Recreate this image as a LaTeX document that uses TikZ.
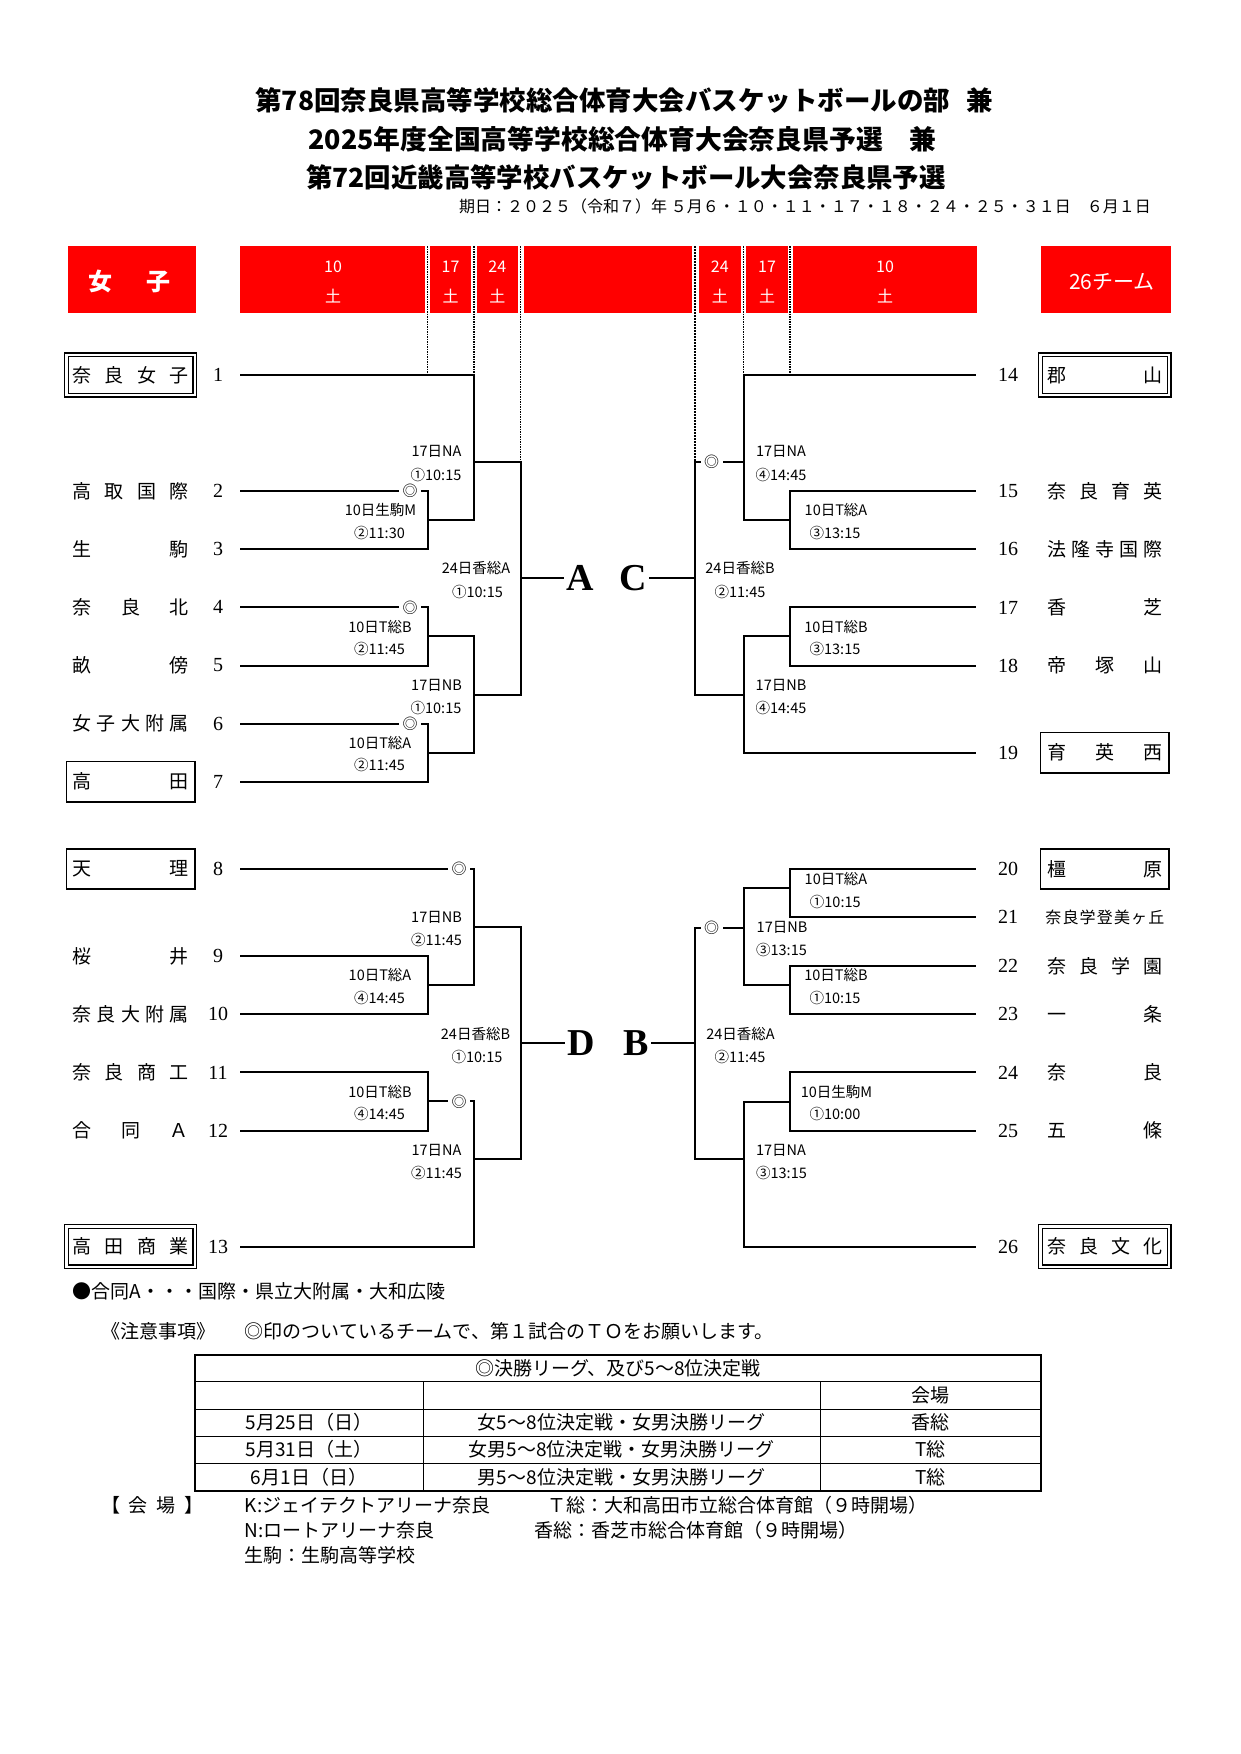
\documentclass[tikz,border=0pt]{standalone}
\usepackage{fontspec}
\setmainfont{Noto Sans CJK JP}
\newfontfamily\serifnum{Liberation Serif}
\newcommand\fsz[1]{\fontsize{#1}{#1}\selectfont}
\begin{document}
\begin{tikzpicture}[x=1pt,y=-1pt,
  br/.style={line width=2pt},
  dotl/.style={densely dotted,line width=1.5pt},
  lbl/.style={font=\fsz{14.5},inner sep=0pt},
  nm/.style={font=\fsz{19},inner sep=0pt,minimum width=128.5pt,minimum height=40.3pt},
  sbox/.style={draw,line width=1.6pt},
  dbox/.style={draw,line width=1.3pt,double,double distance=2.4pt},
  num/.style={font=\serifnum\fsz{20},inner sep=0pt},
  mk/.style={font=\fsz{15},inner sep=3.5pt},
  big/.style={font=\serifnum\bfseries\fsz{38},inner sep=2pt},
  band/.style={fill=red,draw=none},
  wt/.style={text=white,inner sep=0pt,font=\fsz{16}},
  note/.style={font=\fsz{19},inner sep=0pt,anchor=west},
  cell/.style={font=\fsz{19},inner sep=0pt}
]
\fill[white] (0,0) rectangle (1241,1754);
\useasboundingbox (0,0) rectangle (1241,1754);

% ---------- titles ----------
\node[font=\bfseries\fsz{26.5},inner sep=0pt] (title1) at (624,100) {第78回奈良県高等学校総合体育大会バスケットボールの部\hspace{0.6em}兼};
\node[font=\bfseries\fsz{26.8},inner sep=0pt] (title2) at (622.5,139) {2025年度全国高等学校総合体育大会奈良県予選　兼};
\node[font=\bfseries\fsz{26.4},inner sep=0pt] (title3) at (626,177) {第72回近畿高等学校バスケットボール大会奈良県予選};
\node[font=\fsz{16},inner sep=0pt] (date) at (805,206) {期日：２０２５（令和７）年 ５月６・１０・１１・１７・１８・２４・２５・３１日　６月１日};

% ---------- red header ----------
\fill[band] (67.5,246) rectangle (196,313);
\fill[band] (1041,246) rectangle (1171,313);
\fill[band] (240,246) rectangle (425,313);
\fill[band] (430,246) rectangle (471,313);
\fill[band] (477,246) rectangle (517.5,313);
\fill[band] (523.5,246) rectangle (692,313);
\fill[band] (699,246) rectangle (740.5,313);
\fill[band] (746,246) rectangle (787.5,313);
\fill[band] (793,246) rectangle (977,313);
\node[wt,font=\bfseries\fsz{24}] (women) at (129.5,281.5) {\hbox to 83pt{女\hfill 子}};
\node[wt,font=\fsz{21}] (teams) at (1112,281.5) {26チーム};
\node[wt] (d10a) at (333,266.5) {10};   \node[wt] (s10a) at (333,296) {土};
\node[wt] (d17a) at (450.5,266.5) {17}; \node[wt] (s17a) at (450.5,296) {土};
\node[wt] (d24a) at (497.3,266.5) {24}; \node[wt] (s24a) at (497.3,296) {土};
\node[wt] (d24b) at (719.8,266.5) {24}; \node[wt] (s24b) at (719.8,296) {土};
\node[wt] (d17b) at (767,266.5) {17};   \node[wt] (s17b) at (767,296) {土};
\node[wt] (d10b) at (885,266.5) {10};   \node[wt] (s10b) at (885,296) {土};

% dotted column lines
\draw[dotl] (427.3,246) -- (427.3,375);
\draw[dotl] (474,246) -- (474,375);
\draw[dotl] (520.7,246) -- (520.7,461.7);
\draw[dotl,line width=2pt] (694.7,246) -- (694.7,461.7);
\draw[dotl] (743.3,246) -- (743.3,375);
\draw[dotl] (790,246) -- (790,375);

% ---------- team names (left) ----------
\node[nm,dbox] (t1) at (130.6,375) {\hbox to 116pt{奈\hfill 良\hfill 女\hfill 子}};
\node[nm] (t2) at (130.6,491.2) {\hbox to 116pt{高\hfill 取\hfill 国\hfill 際}};
\node[nm] (t3) at (130.6,549.3) {\hbox to 116pt{生\hfill 駒}};
\node[nm] (t4) at (130.6,607.4) {\hbox to 116pt{奈\hfill 良\hfill 北}};
\node[nm] (t5) at (130.6,665.5) {\hbox to 116pt{畝\hfill 傍}};
\node[nm] (t6) at (130.6,723.6) {\hbox to 116pt{女\hfill 子\hfill 大\hfill 附\hfill 属}};
\node[nm,sbox] (t7) at (130.6,781.7) {\hbox to 116pt{高\hfill 田}};
\node[nm,sbox] (t8) at (130.6,869) {\hbox to 116pt{天\hfill 理}};
\node[nm] (t9) at (130.6,956.2) {\hbox to 116pt{桜\hfill 井}};
\node[nm] (t10) at (130.6,1014.3) {\hbox to 116pt{奈\hfill 良\hfill 大\hfill 附\hfill 属}};
\node[nm] (t11) at (130.6,1072.4) {\hbox to 116pt{奈\hfill 良\hfill 商\hfill 工}};
\node[nm] (t12) at (130.6,1130.5) {\hbox to 116pt{合\hfill 同\hfill Ａ}};
\node[nm,dbox] (t13) at (130.6,1246.7) {\hbox to 116pt{高\hfill 田\hfill 商\hfill 業}};

% ---------- team names (right) ----------
\node[nm,dbox] (t14) at (1104.9,375) {\hbox to 115pt{郡\hfill 山}};
\node[nm] (t15) at (1104.9,491.2) {\hbox to 115pt{奈\hfill 良\hfill 育\hfill 英}};
\node[nm] (t16) at (1104.9,549.3) {\hbox to 115pt{法\hfill 隆\hfill 寺\hfill 国\hfill 際}};
\node[nm] (t17) at (1104.9,607.4) {\hbox to 115pt{香\hfill 芝}};
\node[nm] (t18) at (1104.9,665.5) {\hbox to 115pt{帝\hfill 塚\hfill 山}};
\node[nm,sbox] (t19) at (1104.9,752.7) {\hbox to 115pt{育\hfill 英\hfill 西}};
\node[nm,sbox] (t20) at (1104.9,869) {\hbox to 115pt{橿\hfill 原}};
\node[nm,font=\fsz{16}] (t21) at (1104.9,917.3) {\hbox to 119pt{奈\hfill 良\hfill 学\hfill 登\hfill 美\hfill ヶ\hfill 丘}};
\node[nm] (t22) at (1104.9,966) {\hbox to 115pt{奈\hfill 良\hfill 学\hfill 園}};
\node[nm] (t23) at (1104.9,1014.3) {\hbox to 115pt{一\hfill 条}};
\node[nm] (t24) at (1104.9,1072.4) {\hbox to 115pt{奈\hfill 良}};
\node[nm] (t25) at (1104.9,1130.5) {\hbox to 115pt{五\hfill 條}};
\node[nm,dbox] (t26) at (1104.9,1246.7) {\hbox to 115pt{奈\hfill 良\hfill 文\hfill 化}};

% ---------- numbers ----------
\foreach \n/\y in {1/375,2/491.2,3/549.3,4/607.4,5/665.5,6/723.6,7/781.7,8/869,9/956.2,10/1014.3,11/1072.4,12/1130.5,13/1246.7}
  \node[num] (n\n) at (218,\y) {\n};
\foreach \n/\y in {14/375,15/491.2,16/549.3,17/607.4,18/665.5,19/752.7,20/869,21/917.3,22/966,23/1014.3,24/1072.4,25/1130.5,26/1246.7}
  \node[num] (n\n) at (1008,\y) {\n};

% ---------- coordinates ----------
\foreach \n/\y in {1/375,2/491.2,3/549.3,4/607.4,5/665.5,6/723.6,7/781.7,8/869,9/956.2,10/1014.3,11/1072.4,12/1130.5,13/1246.7}
  \coordinate (p\n) at (240,\y);
\foreach \n/\y in {14/375,15/491.2,16/549.3,17/607.4,18/665.5,19/752.7,20/869,21/917.3,22/966,23/1014.3,24/1072.4,25/1130.5,26/1246.7}
  \coordinate (e\n) at (975.7,\y);
\coordinate (j23) at (427.5,520.2);
\coordinate (j45) at (427.5,636.4);
\coordinate (j67) at (427.5,752.6);
\coordinate (k1) at (474,461.7);
\coordinate (k2) at (474,694.5);
\coordinate (q1) at (520.7,578);
\coordinate (j910) at (427.5,985.2);
\coordinate (j1112) at (427.5,1101.4);
\coordinate (k3) at (474,927.2);
\coordinate (k4) at (474,1159.3);
\coordinate (q2) at (520.7,1042.7);
\coordinate (h1516) at (790,520.2);
\coordinate (h1718) at (790,636.4);
\coordinate (g1) at (743.5,461.7);
\coordinate (g2) at (743.5,694.5);
\coordinate (c1) at (695,578);
\coordinate (h2021) at (790,888.3);
\coordinate (h2223) at (790,985);
\coordinate (h2425) at (790,1101.5);
\coordinate (g3) at (743.5,927.5);
\coordinate (g4) at (743.5,1159.3);
\coordinate (c2) at (695,1042.7);

% ---------- marks and letters ----------
\node[mk] (m2) at (410,491.2) {◎};
\node[mk] (m4) at (410,607.4) {◎};
\node[mk] (m6) at (410,723.6) {◎};
\node[mk] (m8) at (459,869) {◎};
\node[mk] (m11) at (459,1101.4) {◎};
\node[mk] (mc) at (711.7,461.7) {◎};
\node[mk] (mb) at (711.7,927.5) {◎};
\node[big] (A) at (580,578) {A};
\node[big] (C) at (633,578) {C};
\node[big] (D) at (581,1042.7) {D};
\node[big] (B) at (636,1042.7) {B};

% ---------- brackets left top ----------
\draw[br] (p1) -| (k1);
\draw[br] (p2) -- (m2.west);
\draw[br] (m2.east) -| (j23);
\draw[br] (p3) -| (j23);
\draw[br] (j23) -| (k1);
\draw[br] (p4) -- (m4.west);
\draw[br] (m4.east) -| (j45);
\draw[br] (p5) -| (j45);
\draw[br] (p6) -- (m6.west);
\draw[br] (m6.east) -| (j67);
\draw[br] (p7) -| (j67);
\draw[br] (j45) -| (k2);
\draw[br] (j67) -| (k2);
\draw[br] (k1) -| (q1);
\draw[br] (k2) -| (q1);
\draw[br] (q1) -- (A.west);
% right top
\draw[br] (e14) -| (g1);
\draw[br] (e15) -| (h1516);
\draw[br] (e16) -| (h1516);
\draw[br] (h1516) -| (g1);
\draw[br] (g1) -- (mc.east);
\draw[br] (mc.west) -| (c1);
\draw[br] (e17) -| (h1718);
\draw[br] (e18) -| (h1718);
\draw[br] (h1718) -| (g2);
\draw[br] (e19) -| (g2);
\draw[br] (g2) -| (c1);
\draw[br] (c1) -- (C.east);
% left bottom
\draw[br] (p8) -- (m8.west);
\draw[br] (m8.east) -| (k3);
\draw[br] (p9) -| (j910);
\draw[br] (p10) -| (j910);
\draw[br] (j910) -| (k3);
\draw[br] (p11) -| (j1112);
\draw[br] (p12) -| (j1112);
\draw[br] (j1112) -- (m11.west);
\draw[br] (m11.east) -| (k4);
\draw[br] (p13) -| (k4);
\draw[br] (k3) -| (q2);
\draw[br] (k4) -| (q2);
\draw[br] (q2) -- (D.west);
% right bottom
\draw[br] (e20) -| (h2021);
\draw[br] (e21) -| (h2021);
\draw[br] (h2021) -| (g3);
\draw[br] (e22) -| (h2223);
\draw[br] (e23) -| (h2223);
\draw[br] (h2223) -| (g3);
\draw[br] (g3) -- (mb.east);
\draw[br] (mb.west) -| (c2);
\draw[br] (e24) -| (h2425);
\draw[br] (e25) -| (h2425);
\draw[br] (h2425) -| (g4);
\draw[br] (e26) -| (g4);
\draw[br] (g4) -| (c2);
\draw[br] (c2) -- (B.east);

% ---------- match labels ----------
\node[lbl] (la1) at (436.5,451.7) {17日NA};   \node[lbl] (lb1) at (436,475) {①10:15};
\node[lbl] (la2) at (380.5,510) {10日生駒M};  \node[lbl] (lb2) at (379.5,533) {②11:30};
\node[lbl] (la3) at (380,626.7) {10日T総B};   \node[lbl] (lb3) at (379.5,649) {②11:45};
\node[lbl] (la4) at (436.5,685) {17日NB};     \node[lbl] (lb4) at (436,707.7) {①10:15};
\node[lbl] (la5) at (380,743) {10日T総A};     \node[lbl] (lb5) at (379.5,765) {②11:45};
\node[lbl] (la6) at (476,568) {24日香総A};    \node[lbl] (lb6) at (477.5,591.7) {①10:15};
\node[lbl] (la7) at (436.5,917.3) {17日NB};   \node[lbl] (lb7) at (436.5,940) {②11:45};
\node[lbl] (la8) at (380,975) {10日T総A};     \node[lbl] (lb8) at (379.5,998.3) {④14:45};
\node[lbl] (la9) at (380,1091.7) {10日T総B};  \node[lbl] (lb9) at (379.5,1114.3) {④14:45};
\node[lbl] (la10) at (436.5,1150) {17日NA};   \node[lbl] (lb10) at (436.5,1172.7) {②11:45};
\node[lbl] (la11) at (475.5,1034.3) {24日香総B}; \node[lbl] (lb11) at (477,1056.7) {①10:15};
\node[lbl] (la12) at (781,451.7) {17日NA};    \node[lbl] (lb12) at (781,475) {④14:45};
\node[lbl] (la13) at (836,510) {10日T総A};    \node[lbl] (lb13) at (835,533) {③13:15};
\node[lbl] (la14) at (740,568) {24日香総B};   \node[lbl] (lb14) at (740,591.7) {②11:45};
\node[lbl] (la15) at (836,626.7) {10日T総B};  \node[lbl] (lb15) at (835,649) {③13:15};
\node[lbl] (la16) at (781,685) {17日NB};      \node[lbl] (lb16) at (781,707.7) {④14:45};
\node[lbl] (la17) at (836,879.3) {10日T総A};  \node[lbl] (lb17) at (835.3,901.7) {①10:15};
\node[lbl] (la18) at (782,927.3) {17日NB};    \node[lbl] (lb18) at (781.5,950) {③13:15};
\node[lbl] (la19) at (836,975) {10日T総B};    \node[lbl] (lb19) at (835,998.3) {①10:15};
\node[lbl] (la20) at (740.5,1034.3) {24日香総A}; \node[lbl] (lb20) at (740,1056.7) {②11:45};
\node[lbl] (la21) at (836.5,1091.7) {10日生駒M}; \node[lbl] (lb21) at (835,1114.3) {①10:00};
\node[lbl] (la22) at (781,1150) {17日NA};     \node[lbl] (lb22) at (781.5,1172.7) {③13:15};

% ---------- notes ----------
\node[note] (note1) at (72.7,1291.7) {●合同A・・・国際・県立大附属・大和広陵};
\node[note] (note2) at (101,1331.7) {《注意事項》};
\node[note] (note3) at (244.7,1331.7) {◎印のついているチームで、第１試合のＴＯをお願いします。};

% ---------- table ----------
\draw[line width=1pt] (195,1381.7) -- (1041,1381.7)
  (195,1409.3) -- (1041,1409.3)
  (195,1436) -- (1041,1436)
  (195,1463.3) -- (1041,1463.3)
  (423,1381.7) -- (423,1490.7)
  (820,1381.7) -- (820,1490.7);
\draw[line width=2pt] (195,1355) rectangle (1041,1490.7);
\node[cell] (th) at (618,1368.3) {◎決勝リーグ、及び5～8位決定戦};
\node[cell] (th3) at (930.5,1395.5) {会場};
\node[cell] (r1a) at (309,1422.7) {5月25日（日）};
\node[cell] (r1b) at (621.5,1422.7) {女5～8位決定戦・女男決勝リーグ};
\node[cell] (r1c) at (930.5,1422.7) {香総};
\node[cell] (r2a) at (309,1449.7) {5月31日（土）};
\node[cell] (r2b) at (621.5,1449.7) {女男5～8位決定戦・女男決勝リーグ};
\node[cell] (r2c) at (930.5,1449.7) {T総};
\node[cell] (r3a) at (309,1477) {6月1日（日）};
\node[cell] (r3b) at (621.5,1477) {男5～8位決定戦・女男決勝リーグ};
\node[cell] (r3c) at (930.5,1477) {T総};

% ---------- venues ----------
\node[note] (v0) at (101,1505) {\hbox to 102pt{【\hfill 会\hfill 場\hfill 】}};
\node[note] (v1) at (244.7,1505) {K:ジェイテクトアリーナ奈良};
\node[note] (v2) at (547,1505) {Ｔ総：大和高田市立総合体育館（９時開場）};
\node[note] (v3) at (244.7,1530.7) {N:ロートアリーナ奈良};
\node[note] (v4) at (534.5,1530.7) {香総：香芝市総合体育館（９時開場）};
\node[note] (v5) at (244.7,1555) {生駒：生駒高等学校};
\end{tikzpicture}
\end{document}
